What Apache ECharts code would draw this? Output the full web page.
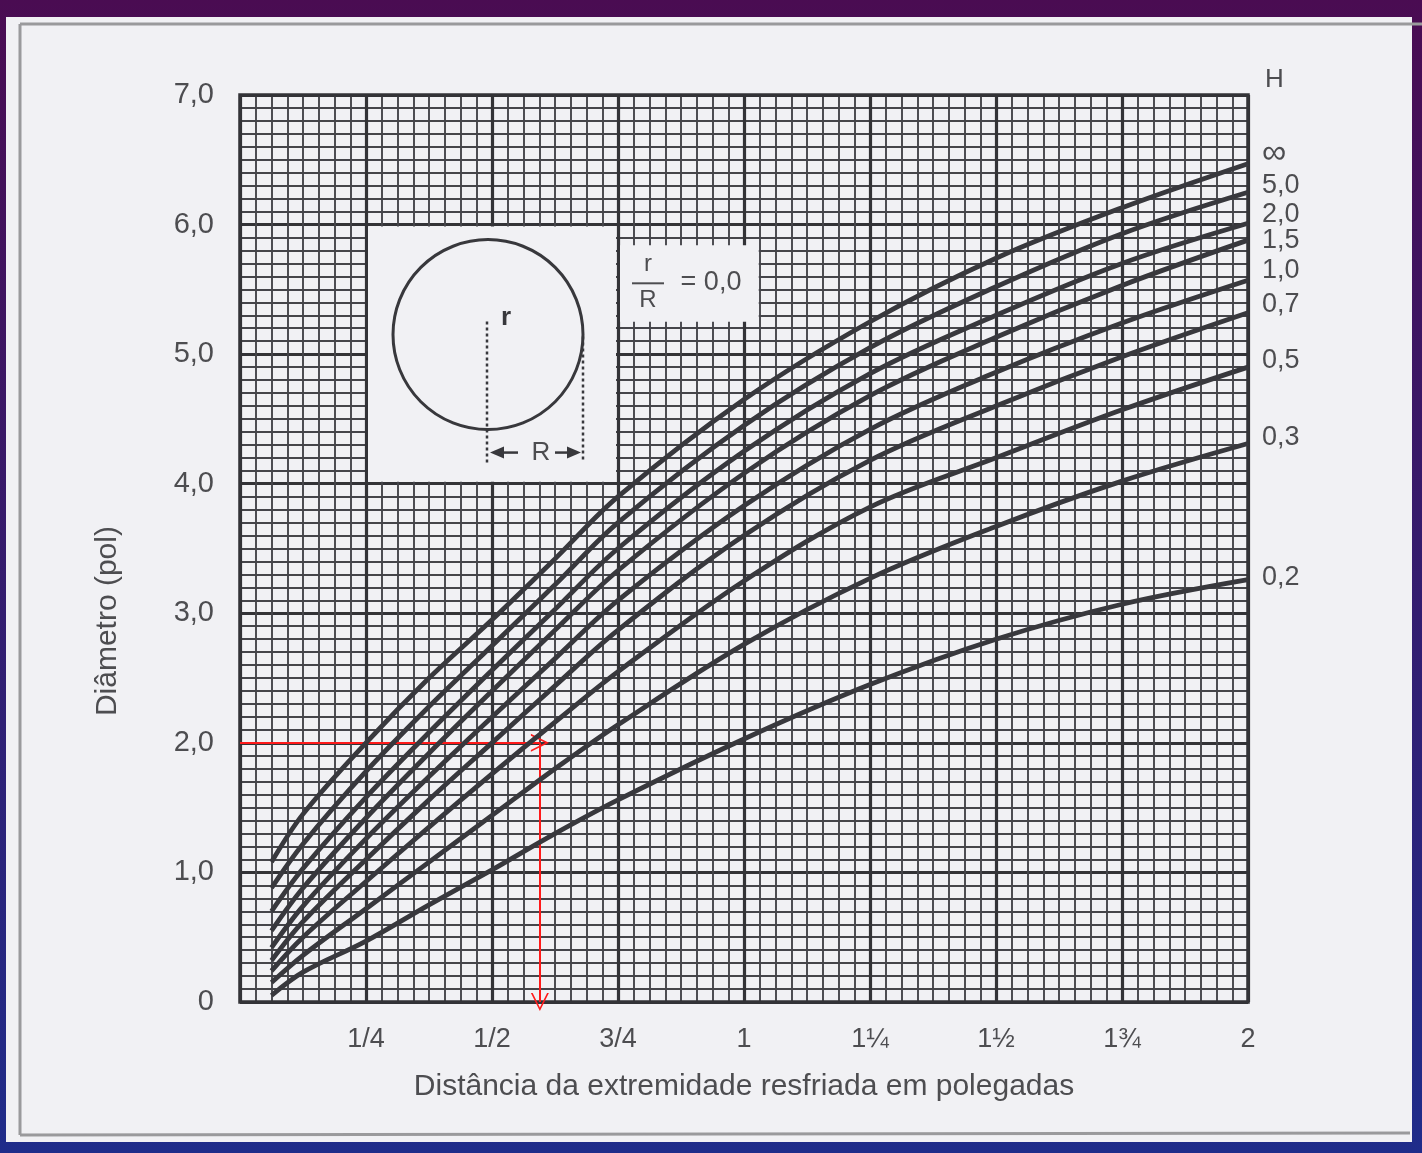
<!DOCTYPE html>
<html><head><meta charset="utf-8">
<style>html,body{margin:0;padding:0;background:#3a1a6a;} #c{width:1422px;height:1153px;}</style>
<script src="https://cdn.jsdelivr.net/npm/echarts@6/dist/echarts.min.js"></script>
</head><body><div id="c"></div>
<script>
// ---- data ----
const distances = [0.0625, 0.125, 0.25, 0.375, 0.5, 0.625, 0.75, 1.0, 1.25, 1.5, 1.75, 2.0];
const hLabels = ['∞', '5,0', '2,0', '1,5', '1,0', '0,7', '0,5', '0,3', '0,2'];
const dInf = [1.08, 1.45, 2.00, 2.50, 2.95, 3.42, 3.90, 4.65, 5.25, 5.74, 6.13, 6.47];
const d50  = [0.88, 1.22, 1.78, 2.28, 2.75, 3.22, 3.70, 4.45, 5.05, 5.52, 5.93, 6.25];
const d20  = [0.70, 1.03, 1.58, 2.08, 2.56, 3.03, 3.50, 4.25, 4.85, 5.30, 5.70, 6.01];
const d15  = [0.55, 0.88, 1.42, 1.92, 2.40, 2.87, 3.33, 4.08, 4.68, 5.13, 5.53, 5.88];
const d10  = [0.42, 0.74, 1.26, 1.74, 2.20, 2.65, 3.10, 3.83, 4.42, 4.86, 5.24, 5.57];
const d07  = [0.32, 0.62, 1.10, 1.56, 2.00, 2.44, 2.87, 3.60, 4.18, 4.60, 4.98, 5.32];
const d05  = [0.24, 0.50, 0.93, 1.35, 1.76, 2.16, 2.55, 3.25, 3.82, 4.20, 4.57, 4.90];
const d03  = [0.15, 0.36, 0.72, 1.08, 1.44, 1.80, 2.14, 2.76, 3.27, 3.67, 4.02, 4.31];
const d02  = [0.05, 0.23, 0.47, 0.75, 1.02, 1.30, 1.56, 2.03, 2.45, 2.80, 3.07, 3.26];
const curves = [dInf, d50, d20, d15, d10, d07, d05, d03, d02];
const xTickLabels = ['', '1/4', '1/2', '3/4', '1', '1¼', '1½', '1¾', '2'];
const yTickLabels = ['0', '1,0', '2,0', '3,0', '4,0', '5,0', '6,0', '7,0'];
const readingPath = [[0, 2.0], [0.595, 2.0], [0.595, 0]];
// ---- styles ----
const labelOffsets = [-10, -7, -9, 0, -10, -8, -7, -6, -2];
const labelSizes = [34, 27, 27, 27, 27, 27, 27, 27, 27];
const FONT = '"Liberation Sans", Arial, sans-serif';
const TXT = '#4d4d50';
const chevron = 'path://M0,20 L10,0 L20,20 L18,20 L10,4 L2,20 Z';

const chart = echarts.init(document.getElementById('c'));

const series = curves.map((vals, i) => ({
  name: hLabels[i], type: 'line', smooth: 0.35, symbol: 'none',
  data: distances.map((x, j) => [x, vals[j]]),
  lineStyle: { color: '#38383d', width: 4.8 },
  endLabel: { show: true, formatter: hLabels[i], distance: 14, offset: [0, labelOffsets[i]],
    color: TXT, fontSize: labelSizes[i], fontFamily: FONT },
  silent: true, animation: false, z: 5
}));
series.push({
  type: 'line', data: [], silent: true, animation: false,
  markLine: {
    silent: true, animation: false, symbol: ['none', chevron], symbolSize: [18, 18],
    label: { show: false }, lineStyle: { color: '#ff1a1a', width: 2, type: 'solid' },
    data: [
      [{ coord: readingPath[0] }, { coord: readingPath[1] }],
      [{ coord: readingPath[1] }, { coord: readingPath[2] }]
    ]
  }
});

chart.setOption({
  backgroundColor: new echarts.graphic.LinearGradient(0, 0, 0, 1, [
    { offset: 0, color: '#4a0c52' }, { offset: 1, color: '#1f2c8a' }]),
  animation: false,
  grid: { left: 240, top: 95, right: 174, bottom: 151, show: true, borderColor: '#333337', borderWidth: 3.5, z: 3 },
  xAxis: {
    type: 'value', min: 0, max: 2, interval: 0.25,
    name: 'Distância da extremidade resfriada em polegadas', nameLocation: 'middle', nameGap: 70,
    nameTextStyle: { color: TXT, fontSize: 30, fontFamily: FONT },
    axisLine: { show: false }, axisTick: { show: false },
    axisLabel: { margin: 24, color: TXT, fontSize: 27, fontFamily: FONT,
      formatter: v => xTickLabels[Math.round(v / 0.25)] },
    splitLine: { show: true, lineStyle: { color: '#333337', width: 3.2 } },
    minorTick: { show: false, splitNumber: 8 },
    minorSplitLine: { show: true, lineStyle: { color: '#45454a', width: 1.9 } }
  },
  yAxis: {
    type: 'value', min: 0, max: 7, interval: 1,
    axisLine: { show: false }, axisTick: { show: false },
    axisLabel: { margin: 26, color: TXT, fontSize: 29, fontFamily: FONT,
      formatter: v => yTickLabels[Math.round(v)] },
    splitLine: { show: true, lineStyle: { color: '#333337', width: 3.2 } },
    minorTick: { show: false, splitNumber: 10 },
    minorSplitLine: { show: true, lineStyle: { color: '#45454a', width: 1.9 } }
  },
  series
});

// ---- decorations placed from axis coordinates ----
const P = (x, y) => chart.convertToPixel({ gridIndex: 0 }, [x, y]);
const boxTL = P(0.25, 6.0), boxBR = P(0.75, 4.0);
const fracTL = P(0.75, 5.84), fracBR = P(1.03125, 5.25);
const corner = P(2, 7);
const yName = P(0, 2.94);
const bx = boxTL[0], by = boxTL[1];
const PAPER = '#f1f1f4';
const ink = '#38383c';
chart.setOption({
  graphic: [
    { type: 'rect', z: -10, shape: { x: 6, y: 17, width: 1406, height: 1125 }, style: { fill: PAPER } },
    { type: 'line', z: -9, shape: { x1: 20, y1: 24, x2: 1422, y2: 24 }, style: { stroke: '#9a9a9c', lineWidth: 3 } },
    { type: 'line', z: -9, shape: { x1: 20, y1: 24, x2: 20, y2: 1135 }, style: { stroke: '#9a9a9c', lineWidth: 3 } },
    { type: 'line', z: -9, shape: { x1: 20, y1: 1135, x2: 1410, y2: 1133 }, style: { stroke: '#9a9a9c', lineWidth: 3 } },
    // y axis title
    { type: 'text', z: 21, x: yName[0] - 132, y: yName[1], rotation: Math.PI / 2,
      style: { x: 0, y: 0, text: 'Diâmetro (pol)', fill: TXT, font: '30px ' + FONT, align: 'center', verticalAlign: 'middle' } },
    // inset box
    { type: 'rect', z: 20, shape: { x: bx + 2, y: by + 2, width: boxBR[0] - bx - 4, height: boxBR[1] - by - 4 }, style: { fill: PAPER } },
    { type: 'circle', z: 21, shape: { cx: bx + 122, cy: by + 110, r: 95 }, style: { fill: 'none', stroke: ink, lineWidth: 3 } },
    { type: 'line', z: 21, shape: { x1: bx + 121, y1: by + 97, x2: bx + 121, y2: by + 238 }, style: { stroke: ink, lineWidth: 2.5, lineDash: [3, 3] } },
    { type: 'line', z: 21, shape: { x1: bx + 217, y1: by + 112, x2: bx + 217, y2: by + 238 }, style: { stroke: ink, lineWidth: 2.5, lineDash: [3, 3] } },
    { type: 'polygon', z: 21, shape: { points: [[bx + 124, by + 228], [bx + 138, by + 222], [bx + 138, by + 234]] }, style: { fill: ink } },
    { type: 'line', z: 21, shape: { x1: bx + 136, y1: by + 228, x2: bx + 152, y2: by + 228 }, style: { stroke: ink, lineWidth: 2.5 } },
    { type: 'polygon', z: 21, shape: { points: [[bx + 215, by + 228], [bx + 201, by + 222], [bx + 201, by + 234]] }, style: { fill: ink } },
    { type: 'line', z: 21, shape: { x1: bx + 189, y1: by + 228, x2: bx + 203, y2: by + 228 }, style: { stroke: ink, lineWidth: 2.5 } },
    { type: 'text', z: 21, style: { x: bx + 175, y: by + 228, text: 'R', fill: TXT, font: '26px ' + FONT, align: 'center', verticalAlign: 'middle' } },
    { type: 'text', z: 21, style: { x: bx + 140, y: by + 93, text: 'r', fill: ink, font: 'bold 26px ' + FONT, align: 'center', verticalAlign: 'middle' } },
    // fraction box
    { type: 'rect', z: 20, shape: { x: fracTL[0] + 2, y: fracTL[1], width: fracBR[0] - fracTL[0] - 3, height: fracBR[1] - fracTL[1] }, style: { fill: PAPER } },
    { type: 'text', z: 21, style: { x: fracTL[0] + 30, y: fracTL[1] + 19, text: 'r', fill: TXT, font: '24px ' + FONT, align: 'center', verticalAlign: 'middle' } },
    { type: 'line', z: 21, shape: { x1: fracTL[0] + 14, y1: fracTL[1] + 38, x2: fracTL[0] + 46, y2: fracTL[1] + 38 }, style: { stroke: TXT, lineWidth: 2 } },
    { type: 'text', z: 21, style: { x: fracTL[0] + 30, y: fracTL[1] + 55, text: 'R', fill: TXT, font: '24px ' + FONT, align: 'center', verticalAlign: 'middle' } },
    { type: 'text', z: 21, style: { x: fracTL[0] + 93, y: fracTL[1] + 37, text: '= 0,0', fill: TXT, font: '27px ' + FONT, align: 'center', verticalAlign: 'middle' } },
    // H header
    { type: 'text', z: 21, style: { x: corner[0] + 17, y: corner[1] - 15, text: 'H', fill: TXT, font: '26px ' + FONT, align: 'left', verticalAlign: 'middle' } }
  ]
});
</script></body></html>
